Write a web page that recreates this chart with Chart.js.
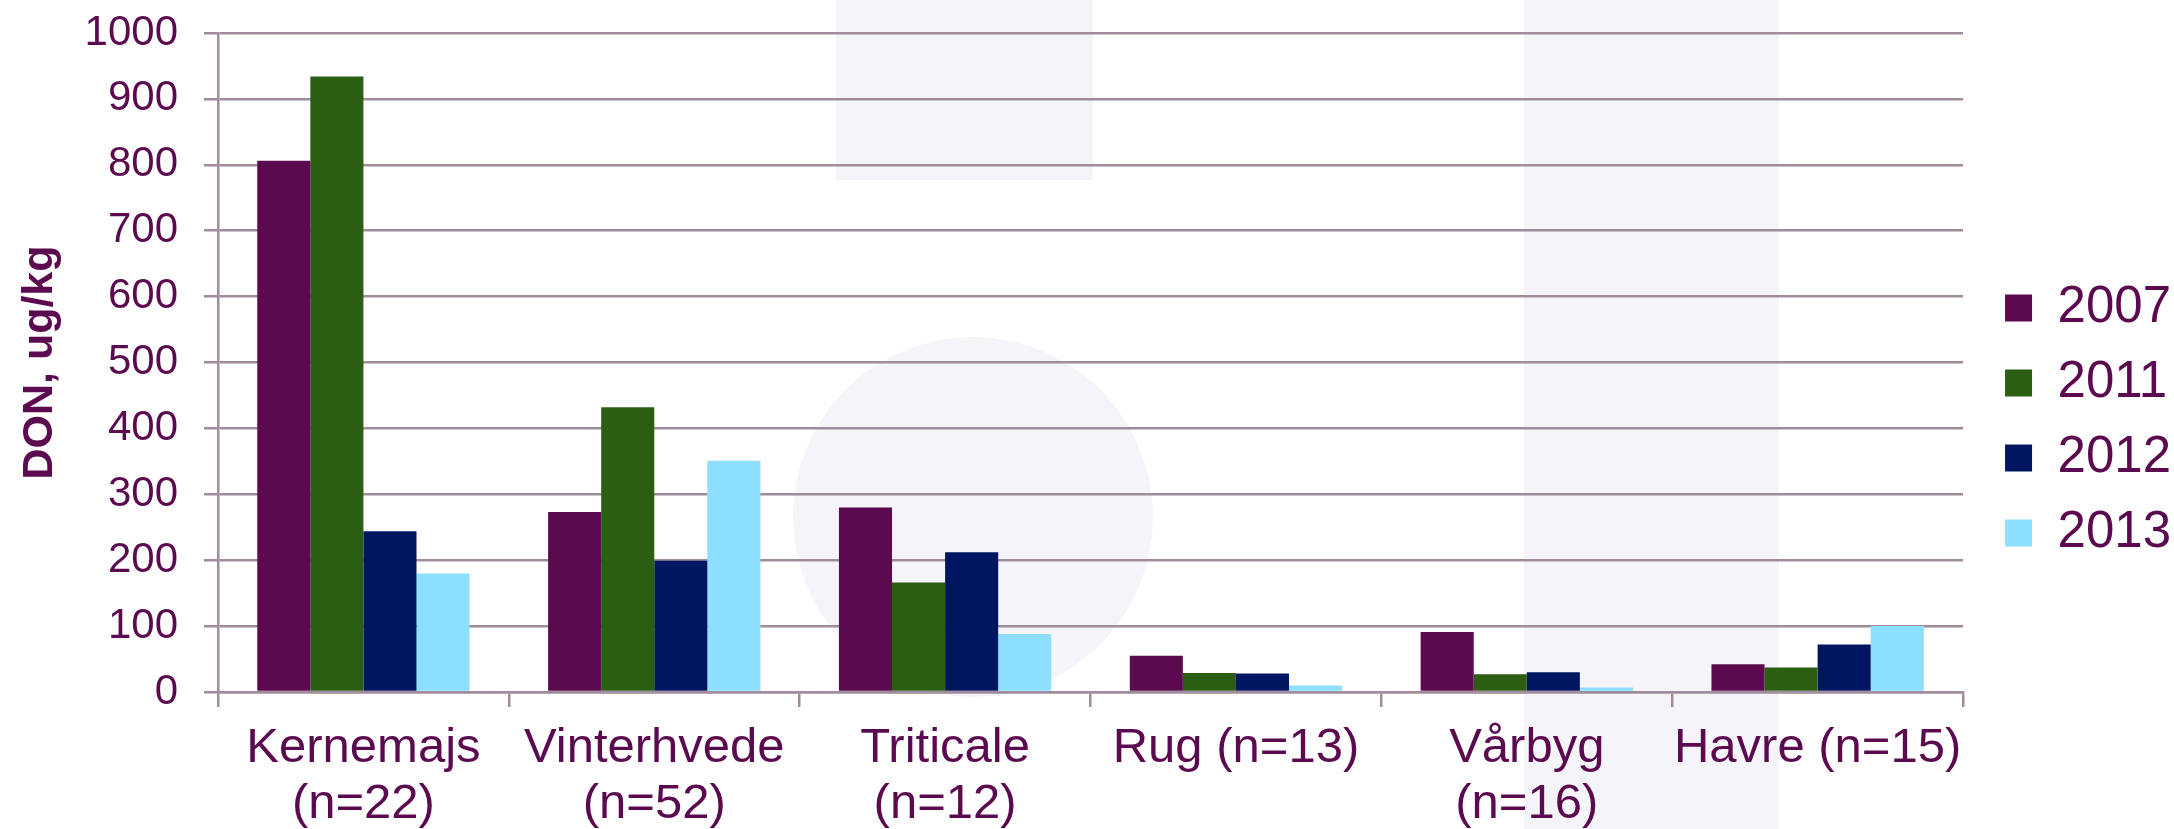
<!DOCTYPE html>
<html>
<head>
<meta charset="utf-8">
<script src="https://cdn.jsdelivr.net/npm/chart.js@4/dist/chart.umd.min.js"></script>
<style>
  html, body { margin: 0; padding: 0; background: #fff; }
  #wrap { position: relative; width: 2174px; height: 829px; overflow: hidden; }
  .deco { position: absolute; background: #f5f5f9; }
  #rect-a { left: 836px; top: 0; width: 257px; height: 180px; }
  #rect-b { left: 1524px; top: 0; width: 255px; height: 829px; }
  #circle { left: 793px; top: 337px; width: 360px; height: 360px; border-radius: 50%; }
  canvas { position: absolute; left: 0; top: 0; }
</style>
</head>
<body>
<div id="wrap">
  <div class="deco" id="rect-a"></div>
  <div class="deco" id="rect-b"></div>
  <div class="deco" id="circle"></div>
  <canvas id="don-chart" width="2174" height="829"></canvas>
</div>
<script>
// Crops and sample counts
const categories = [
  ['Kernemajs', '(n=22)'],
  ['Vinterhvede', '(n=52)'],
  ['Triticale', '(n=12)'],
  'Rug (n=13)',
  ['Vårbyg', '(n=16)'],
  'Havre (n=15)',
];

// DON, ug/kg per year
const years = ['2007', '2011', '2012', '2013'];
const don2007 = [806, 273, 280, 55, 91, 42];
const don2011 = [934, 432, 166, 29, 27, 37];
const don2012 = [244, 199, 212, 28, 30, 72];
const don2013 = [180, 351, 88, 10, 7, 100];

const yTicks = [0, 100, 200, 300, 400, 500, 600, 700, 800, 900, 1000];

const colors = ['#5B0A4F', '#2B5E13', '#001660', '#8CDFFF'];
const textColor = '#5B0A4F';
const gridColor = '#A08C9C';
const fontFamily = "'Liberation Sans', Arial, sans-serif";

// Nudge the legend a little to the right, like the original
const legendShift = {
  id: 'legendShift',
  afterLayout(chart) {
    chart.legend.left += 18;
    chart.legend.right += 18;
  },
};

const ctx = document.getElementById('don-chart');
new Chart(ctx, {
  type: 'bar',
  data: {
    labels: categories,
    datasets: [don2007, don2011, don2012, don2013].map((values, i) => ({
      label: years[i],
      data: values,
      backgroundColor: colors[i],
      borderWidth: 0,
      categoryPercentage: 0.73,
      barPercentage: 1.0,
    })),
  },
  options: {
    responsive: false,
    animation: false,
    layout: { padding: { top: 12, right: 11, bottom: 0, left: 10 } },
    plugins: {
      tooltip: { enabled: false },
      legend: {
        position: 'right',
        labels: {
          color: textColor,
          boxWidth: 27,
          boxHeight: 27,
          padding: 24,
          font: { family: fontFamily, size: 51 },
        },
      },
    },
    scales: {
      x: {
        afterFit(scale) { scale.height = 137; },
        grid: {
          offset: true,
          drawOnChartArea: false,
          color: gridColor,
          lineWidth: 2.5,
          tickLength: 15,
        },
        border: { color: gridColor, width: 2.5 },
        ticks: {
          color: textColor,
          font: { family: fontFamily, size: 49, lineHeight: 1.143 },
          padding: 13,
          maxRotation: 0,
          autoSkip: false,
        },
      },
      y: {
        min: 0,
        max: 1000,
        afterFit(scale) {
          scale.width = 208;
          scale.paddingTop = 33;
        },
        afterBuildTicks(scale) { scale.ticks = yTicks.map((v) => ({ value: v })); },
        grid: {
          color: gridColor,
          lineWidth: 2.5,
          tickLength: 14,
        },
        border: { color: gridColor, width: 2.5 },
        ticks: {
          color: textColor,
          font: { family: fontFamily, size: 42 },
          padding: 26,
          callback: (value) => String(value),
        },
        title: {
          display: true,
          text: 'DON, ug/kg',
          color: textColor,
          font: { family: fontFamily, size: 43, weight: 'bold' },
          padding: { top: 4, bottom: 0 },
        },
      },
    },
  },
  plugins: [legendShift],
});
</script>
</body>
</html>
